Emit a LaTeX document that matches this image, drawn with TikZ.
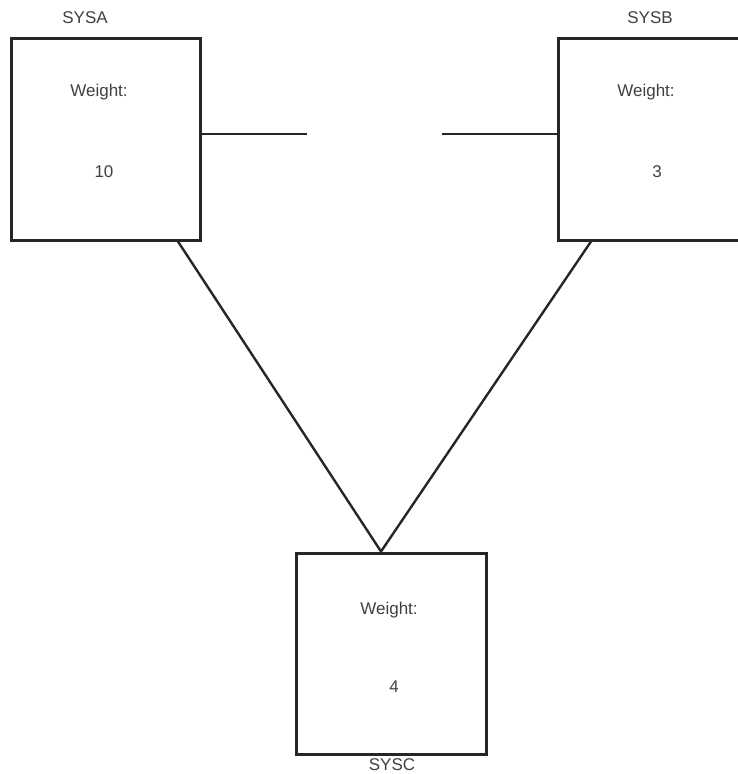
\documentclass[tikz,border=0pt]{standalone}
\usepackage{fontspec}
\setmainfont{Liberation Sans}
\begin{document}
\begin{tikzpicture}[x=1pt,y=-1pt,
  sysbox/.style={draw=black!85,line width=3pt,rectangle,inner sep=0pt},
  lbl/.style={text=black!75,font=\fontsize{17}{20}\selectfont,inner sep=0pt},
  conn/.style={draw=black!85,line width=2.4pt}]
\useasboundingbox (0,0) rectangle (737,774);
% boxes
\node[sysbox,minimum width=189pt,minimum height=202pt] (a) at (105.5,139) {};
\node[sysbox,minimum width=190pt,minimum height=202pt] (b) at (653,139) {};
\node[sysbox,minimum width=190pt,minimum height=201pt] (c) at (391,653.5) {};
% texts
\node[lbl] (ta) at (85,18) {SYSA};
\node[lbl] (wa) at (99,92) {Weight:};
\node[lbl] (na) at (104,172) {10};
\node[lbl] (tb) at (650,18) {SYSB};
\node[lbl] (wb) at (646,92) {Weight:};
\node[lbl] (nb) at (657,172) {3};
\node[lbl] (wc) at (389,610) {Weight:};
\node[lbl] (nc) at (394,687) {4};
\node[lbl] (tc) at (392,765) {SYSC};
% connectors
\coordinate (ga) at (307,134);
\coordinate (gb) at (442,134);
\draw[conn] ([yshift=5pt]a.east) -- (ga);
\draw[conn] (gb) -- ([yshift=5pt]b.west);
\draw[conn] ([xshift=72.5pt]a.south) -- ([xshift=-10pt]c.north);
\draw[conn] ([xshift=-62pt]b.south) -- ([xshift=-10pt]c.north);
\end{tikzpicture}
\end{document}
